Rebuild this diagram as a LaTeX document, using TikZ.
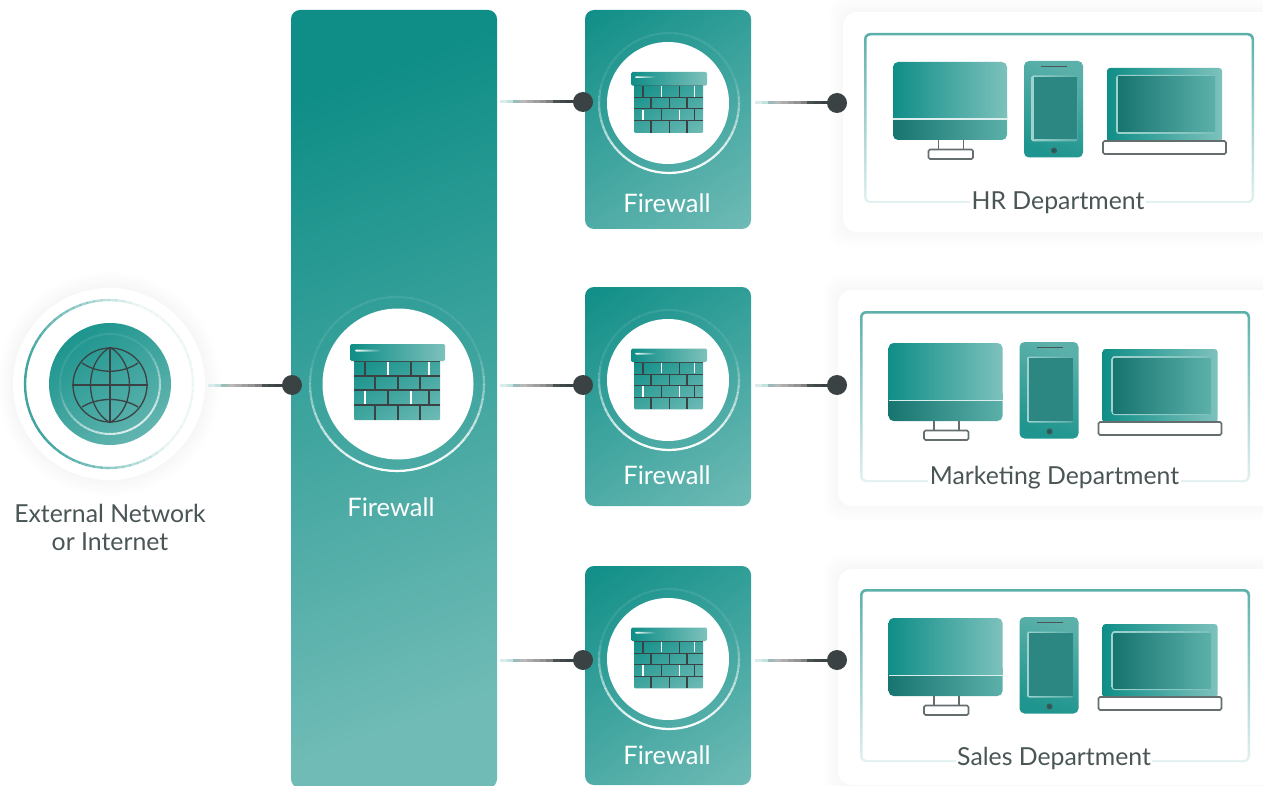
\documentclass[tikz,border=0pt]{standalone}
\usepackage{fontspec}
\setmainfont{Lato}
\usetikzlibrary{calc}
\definecolor{tealA}{HTML}{0F8E87}
\definecolor{tealB}{HTML}{70BBB6}
\definecolor{tealC}{HTML}{7DC1BC}
\definecolor{tealD}{HTML}{17746F}
\definecolor{tealE}{HTML}{5CB0AA}
\definecolor{inkD}{HTML}{3A4244}
\definecolor{labelC}{HTML}{4A5556}
\definecolor{paleC}{HTML}{A9D6D2}
\pgfdeclareverticalshading{fwgrad}{100bp}{color(0bp)=(tealB); color(15bp)=(tealB); color(85bp)=(tealA); color(100bp)=(tealA)}
\tikzset{
  x=1pt,y=-1pt,
  grad/.style={shade,shading=fwgrad,shading angle=35},
  biggrad/.style={shade,top color=tealA,bottom color=tealB,shading angle=20},
  fwbox/.style={grad,rounded corners=9pt,inner sep=0pt},
  dot/.style={circle,fill=inkD,minimum size=20pt,inner sep=0pt},
  wlabel/.style={text=white,font=\fontsize{25.5}{28}\selectfont,inner sep=0pt},
  dlabel/.style={text=labelC,font=\fontsize{24.8}{28}\selectfont,inner sep=1.5pt},
  hgrad/.style={shade,left color=tealA,right color=tealC},
  hdark/.style={shade,left color=tealD,right color=tealE},
  wallline/.style={draw=inkD,line width=#1},
  outline/.style={draw=labelC!85,line width=1.6pt,fill=white,rounded corners=1.5pt}
}
% fading ring: centre x,y, radius, width, colour; opacity = a + b*cos(angle-c)
\newcommand{\fadering}[8]{%
  \begin{scope}[shift={(#1,#2)}]
    \foreach \ang in {0,5,...,355}{
      \pgfmathsetmacro{\op}{max(0.08,min(1,#6+#7*cos(\ang-#8)))}
      \pgfmathsetmacro{\angb}{\ang+5.4}
      \draw[#5,opacity=\op,line width=#4] (\ang:#3) -- (\angb:#3);
    }
  \end{scope}}
% brick wall icon: left, top of the cap, scale, line width
\newcommand{\wall}[4]{%
  \begin{scope}[shift={(#1,#2)},scale=#3]
    \path[grad,rounded corners=1pt] (4,15) rectangle (90,76);
    \foreach \yy in {17,32,46,61}{\draw[wallline=#4] (4,\yy) -- (90,\yy);}
    \foreach \xx in {15,61}{\draw[wallline=#4] (\xx,17) -- (\xx,32);}
    \foreach \xx in {38,79}{\draw[white,line width=#4] (\xx,18) -- (\xx,31);}
    \foreach \xx in {38,79}{\draw[wallline=#4] (\xx,46) -- (\xx,61);}
    \foreach \xx in {15,61}{\draw[white,line width=#4] (\xx,47) -- (\xx,60);}
    \foreach \xx in {25,48,70}{
      \draw[wallline=#4] (\xx,32) -- (\xx,46);
      \draw[wallline=#4] (\xx,61) -- (\xx,76);}
    \path[hgrad,rounded corners=1.5pt] (0,0) rectangle (95,17);
    \path[left color=white,right color=white!10!tealA,shade,rounded corners=1pt] (5,5.5) rectangle (32,7.5);
  \end{scope}}
% devices: offsets of monitor/laptop row and of tablet
\newcommand{\devices}[2]{%
  \begin{scope}[shift={(#1,#2)}]
    % monitor
    \draw[outline,rounded corners=0pt] (938.5,138) -- (938.5,150) (963.5,138) -- (963.5,150);
    \draw[outline] (928.5,149.5) rectangle (973,159);
    \path[hgrad,rounded corners=5pt] (893,62) rectangle (1007,122);
    \path[hdark,rounded corners=5pt] (893,112) rectangle (1007,140);
    \path[hgrad] (893,112) rectangle (1007,118.5);
    \fill[white!85!tealA] (893,118.5) rectangle (1007,120.2);
    % tablet
    \path[shade,top color=tealE,bottom color=tealA!80!tealE,shading angle=-20,rounded corners=5pt] (1024,61) rectangle (1083,157.5);
    \path[shade,left color=white!60!tealA,right color=tealE,rounded corners=2pt] (1031.5,75.5) rectangle (1077.5,141.5);
    \fill[tealD!70!tealE] (1033.5,77) rectangle (1077,139.5);
    \draw[labelC,line width=1.3pt] (1041,66.5) -- (1067,66.5);
    \draw[labelC,line width=1.2pt,fill=tealA!70!black] (1054,150.5) circle (2.4);
    % laptop
    \path[hgrad,rounded corners=3pt] (1107,68) rectangle (1222,142);
    \path[shade,left color=white!60!tealA,right color=tealC,rounded corners=3pt] (1116,75) rectangle (1215,134);
    \path[shade,left color=tealD,right color=tealE] (1118,77) rectangle (1215,132);
    \draw[outline] (1103,141) rectangle (1226,154);
  \end{scope}}
% soft halo around a card
\newcommand{\cardhalo}[3]{%
  \foreach \ee in {2,4,...,14}{
    \fill[black,opacity=.0045,rounded corners=14pt] (#1-\ee,#2-\ee) rectangle (1300,#3+\ee);
  }}
\newcommand{\connector}[2]{%
  \foreach \tt/\cc in {0/paleC!45!white,.08/paleC!70!white,.16/paleC!70!gray,.24/gray!55,.32/gray!65,.40/gray!75,.48/gray!85,.56/gray,.64/inkD!75!gray,.72/inkD!90!gray,.8/inkD,.88/inkD}{
    \draw[\cc,line width=3pt] ($(#1)!\tt!(#2)$) -- ($(#1)!\tt+0.09!(#2)$);
  }}
\begin{document}
\begin{tikzpicture}
\useasboundingbox (0,0) rectangle (1263,786);
\clip (0,0) rectangle (1263,786);
\fill[white] (0,0) rectangle (1263,786);

%% ---- department cards
\cardhalo{843}{12}{232}
\cardhalo{838}{290}{506}
\cardhalo{838}{569}{785}
\fill[white,rounded corners=14pt] (843,12) rectangle (1300,232);
\fill[white,rounded corners=14pt] (838,290) rectangle (1300,506);
\fill[white,rounded corners=14pt] (838,569) rectangle (1300,785);

%% ---- frames
\path[shade,top color=tealE,bottom color=tealA!12!white,rounded corners=6pt] (864,33) rectangle (1254,203);
\fill[white,rounded corners=4pt] (866.5,35.5) rectangle (1251.5,201);
\path[shade,top color=tealE,bottom color=tealA!12!white,rounded corners=6pt] (860,311) rectangle (1250,482);
\fill[white,rounded corners=4pt] (862.5,313.5) rectangle (1247.5,480);
\path[shade,top color=tealE,bottom color=tealA!12!white,rounded corners=6pt] (860,589) rectangle (1250,762);
\fill[white,rounded corners=4pt] (862.5,591.5) rectangle (1247.5,760);

\devices{0}{0}
\devices{-4.5}{281}
\devices{-4.5}{556}

\node[dlabel,fill=white] (hr) at (1058,203) {HR Department};
\node[dlabel,fill=white] (mk) at (1054.5,478) {Marketing Department};
\node[dlabel,fill=white] (sl) at (1054,758) {Sales Department};

%% ---- external network
\foreach \ee in {2,4,...,16}{
  \fill[black,opacity=.005] (109,384) circle (96+\ee);
}
\fill[white] (109,384) circle (96);
\fadering{109}{384}{84}{2.4pt}{tealA!80!white}{0.42}{0.62}{165}
\path[grad] (110,384) circle (61);
\fadering{110}{384}{50}{2pt}{white}{0.25}{0.5}{60}
\node[circle,minimum size=74pt,inner sep=0pt,draw=inkD,line width=1.3pt] (globe) at (110,385) {};
\draw[inkD,line width=1.3pt] (globe.west) -- (globe.east) (globe.north) -- (globe.south);
\draw[inkD,line width=1.3pt] (globe.north) .. controls (84,362) and (84,408) .. (globe.south);
\draw[inkD,line width=1.3pt] (globe.north) .. controls (136,362) and (136,408) .. (globe.south);
\draw[inkD,line width=1.3pt] (82,363) .. controls (98,374) and (122,374) .. (138,363);
\draw[inkD,line width=1.3pt] (82,407) .. controls (98,397) and (122,397) .. (138,407);
\node[text=labelC,font=\fontsize{24.8}{28}\selectfont,inner sep=0pt] (extA) at (110,513) {External Network};
\node[text=labelC,font=\fontsize{24.8}{28}\selectfont,inner sep=0pt] (extB) at (110,542) {or Internet};

%% ---- firewalls
\node[biggrad,rounded corners=9pt,inner sep=0pt,minimum width=206pt,minimum height=778pt] (fwmain) at (394,399) {};
\node[fwbox,minimum width=166pt,minimum height=219pt] (fwa) at (668,119.5) {};
\node[fwbox,minimum width=166pt,minimum height=219pt] (fwb) at (668,396.5) {};
\node[fwbox,minimum width=166pt,minimum height=219pt] (fwc) at (668,675.5) {};

\fadering{397}{384}{87}{2.2pt}{white}{0.3}{0.7}{85}
\fill[white] (398,384) circle (75.5);
\wall{350}{344}{1}{1.3pt}
\node[wlabel] (lm) at (391,507) {Firewall};

\fadering{669}{103}{70}{2.2pt}{white}{0.3}{0.7}{85}
\fill[white] (668,103) circle (61);
\wall{631}{72}{0.8}{1.2pt}
\node[wlabel] (la) at (667,203) {Firewall};

\fadering{669}{380}{70}{2.2pt}{white}{0.3}{0.7}{85}
\fill[white] (668,380) circle (61);
\wall{631}{348.5}{0.8}{1.2pt}
\node[wlabel] (lb) at (667,475) {Firewall};

\fadering{669}{659}{70}{2.2pt}{white}{0.3}{0.7}{85}
\fill[white] (668,659) circle (61);
\wall{631}{627.5}{0.8}{1.2pt}
\node[wlabel] (lc) at (667,755) {Firewall};

%% ---- connectors
\node[dot] (d0) at (292,385) {};
\node[dot] (d1) at (583,102) {};
\node[dot] (d2) at (583,385) {};
\node[dot] (d3) at (583,660) {};
\node[dot] (e1) at (837,103) {};
\node[dot] (e2) at (837,385) {};
\node[dot] (e3) at (837,660) {};
\coordinate (s0) at (208,385);
\coordinate (s1) at (500,102);
\coordinate (s2) at (500,385);
\coordinate (s3) at (500,660);
\coordinate (t1) at (755,103);
\coordinate (t2) at (755,385);
\coordinate (t3) at (755,660);
\connector{s0}{d0}
\connector{s1}{d1}
\connector{s2}{d2}
\connector{s3}{d3}
\connector{t1}{e1}
\connector{t2}{e2}
\connector{t3}{e3}
\end{tikzpicture}
\end{document}
